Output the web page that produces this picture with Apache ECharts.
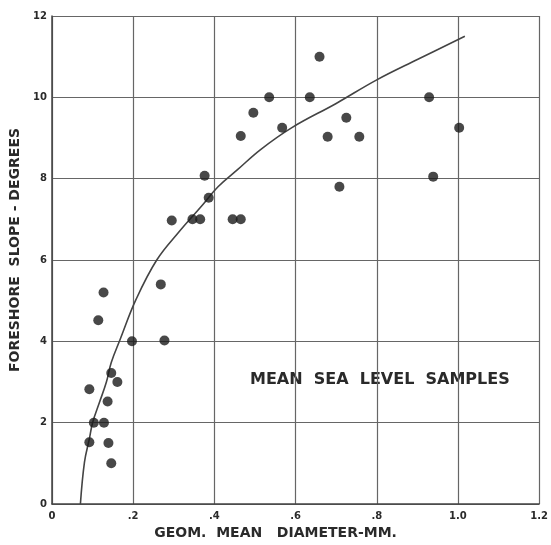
<!DOCTYPE html>
<html>
<head>
<meta charset="utf-8">
<script src="https://cdn.jsdelivr.net/npm/echarts@6/dist/echarts.min.js"></script>
<style>
html,body{margin:0;padding:0;background:#fff;}
#chart{width:551px;height:545px;}
</style>
</head>
<body>
<div id="chart"></div>
<script>
// Sample points: [geom. mean diameter (mm), foreshore slope (degrees)]
const samples = [
  [0.127, 5.2], [0.114, 4.52], [0.268, 5.4], [0.197, 4.0], [0.277, 4.02],
  [0.146, 3.22], [0.161, 3.0], [0.092, 2.82], [0.137, 2.52],
  [0.103, 2.0], [0.128, 2.0], [0.092, 1.52], [0.139, 1.5], [0.146, 1.0],
  [0.535, 10.0], [0.496, 9.62], [0.465, 9.05], [0.376, 8.07], [0.386, 7.53],
  [0.295, 6.97], [0.346, 7.0], [0.365, 7.0], [0.445, 7.0], [0.465, 7.0],
  [0.659, 11.0], [0.635, 10.0], [0.929, 10.0], [0.567, 9.25], [0.725, 9.5],
  [0.679, 9.03], [0.757, 9.03], [1.003, 9.25], [0.939, 8.05], [0.708, 7.8]
];
// Fitted curve
const curveX = [0.07, 0.08, 0.092, 0.10, 0.117, 0.134, 0.146, 0.168, 0.207, 0.258, 0.311, 0.367, 0.409, 0.457, 0.513, 0.59, 0.70, 0.80, 0.90, 1.017];
const curveY = [0, 1.03, 1.6, 2.0, 2.5, 3.0, 3.48, 4.05, 5.03, 6.0, 6.67, 7.31, 7.8, 8.22, 8.71, 9.25, 9.85, 10.43, 10.93, 11.5];
const xTickLabels = {0: '0', 0.2: '.2', 0.4: '.4', 0.6: '.6', 0.8: '.8', 1: '1.0', 1.2: '1.2'};
const annotation = 'MEAN  SEA  LEVEL  SAMPLES';
const xTitle = 'GEOM.  MEAN   DIAMETER-MM.';
const yTitle = 'FORESHORE  SLOPE - DEGREES';

const curve = curveX.map((x, i) => [x, curveY[i]]);
const ink = '#2a2a2a';
const chart = echarts.init(document.getElementById('chart'));
chart.setOption({
  backgroundColor: '#fff',
  animation: false,
  grid: {left: 52, right: 6, top: 16, bottom: 40},
  xAxis: {
    type: 'value', min: 0, max: 1.2, interval: 0.2,
    name: xTitle, nameLocation: 'middle', nameGap: 22,
    nameTextStyle: {fontFamily: 'DejaVu Sans', fontWeight: 'bold', fontSize: 14, color: ink, padding: [0, 40, 0, 0]},
    axisLine: {lineStyle: {color: '#444', width: 1.5}},
    axisTick: {show: false},
    axisLabel: {fontFamily: 'DejaVu Sans', fontWeight: 'bold', fontSize: 10, color: ink, margin: 7,
      formatter: v => xTickLabels[Math.round(v * 10) / 10] ?? ''},
    splitLine: {show: true, lineStyle: {color: '#666', width: 1.2}}
  },
  yAxis: {
    type: 'value', min: 0, max: 12, interval: 2,
    name: yTitle, nameLocation: 'middle', nameGap: 27, nameRotate: 90,
    nameTextStyle: {fontFamily: 'DejaVu Sans', fontWeight: 'bold', fontSize: 14, color: ink, padding: [0, 0, 0, 20]},
    axisLine: {show: true, lineStyle: {color: '#444', width: 1.5}},
    axisTick: {show: false},
    axisLabel: {fontFamily: 'DejaVu Sans', fontWeight: 'bold', fontSize: 10, color: ink, margin: 5},
    splitLine: {show: true, lineStyle: {color: '#666', width: 1.2}}
  },
  graphic: [{
    type: 'text', left: 250, top: 372,
    style: {text: annotation, fontFamily: 'DejaVu Sans', fontWeight: 'bold', fontSize: 16, fill: ink}
  }],
  series: [
    {
      type: 'line', data: curve, smooth: 0.4, showSymbol: false,
      lineStyle: {color: '#444', width: 1.6}, z: 3
    },
    {
      type: 'scatter', data: samples, symbol: 'circle', symbolSize: 10,
      itemStyle: {color: '#1a1a1a'}, z: 4
    }
  ]
});
</script>
</body>
</html>
